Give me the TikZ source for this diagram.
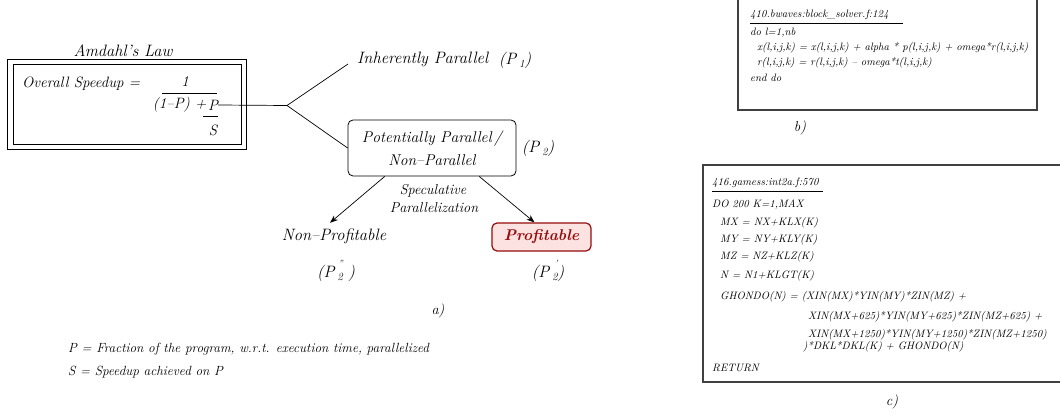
\documentclass[tikz,border=0pt]{standalone}
\usetikzlibrary{arrows.meta,calc}
\definecolor{profred}{RGB}{150,12,12}
\definecolor{proffill}{RGB}{253,226,226}
\newcommand{\subsz}{\fontsize{11}{12}\selectfont}
\newcommand{\primesz}{\fontsize{9}{10}\selectfont}
\begin{document}
\begin{tikzpicture}[x=1pt,y=-1pt,
  lbl/.style={inner sep=0pt, font=\fontsize{16.5}{19}\selectfont\itshape},
  form/.style={inner sep=0pt, font=\fontsize{15}{18}\selectfont\itshape},
  small/.style={inner sep=0pt, font=\fontsize{14.3}{16}\selectfont\itshape},
  legend/.style={inner sep=0pt, anchor=west, font=\fontsize{13.3}{15}\selectfont\itshape},
  codeb/.style={inner sep=0pt, anchor=west, font=\fontsize{10.7}{12}\selectfont\itshape},
  codec/.style={inner sep=0pt, anchor=west, font=\fontsize{10.75}{12}\selectfont\itshape},
  conn/.style={line width=0.7pt},
  arr/.style={line width=0.7pt, -{Stealth[length=8pt,width=6pt]}},
  codebox/.style={line width=1.2pt, black!75},
]
\useasboundingbox (0,0) rectangle (1060,414);

% ---------- a) Amdahl's law ----------
\node[lbl] (amdt) at (123,51) {Amdahl's Law};
\draw[line width=0.8pt] (7,59) rectangle (246,149);
\draw[line width=0.8pt] (13,64) rectangle (241,144);
\node[form, anchor=west] (ovs) at (22,84) {Overall Speedup =};
\node[form] (one) at (185,82) {1};
\draw[line width=0.7pt] (162,93) -- (217,93);
\node[form, anchor=east] (den) at (206.5,105) {(1--P) +};
\node[form] (pnum) at (213,105) {P};
\draw[line width=0.7pt] (203,116) -- (218,116);
\node[form] (sden) at (213,130) {S};

\coordinate (br) at (287,105.5);
\coordinate (upend) at (348,64);
\draw[conn] (pnum.east) -- (br);
\draw[conn] (br) -- (upend);

\node[lbl, anchor=west] (inh) at (357,59) {Inherently Parallel};
\node[lbl] (p1) at (515,60) {(P\,\raisebox{-0.45ex}{\subsz 1})};

\node[draw, line width=0.8pt, rounded corners=5pt, minimum width=168pt, minimum height=56pt,
      align=center, font=\fontsize{15.6}{23}\selectfont\itshape, inner sep=0pt] (pot) at (432,148)
      {Potentially Parallel\,/\\Non--Parallel};
\draw[conn] (br) -- (pot.west);
\node[lbl] (p2) at (538,148) {(P\,\raisebox{-0.45ex}{\subsz 2})};

\node[small] (spec) at (433,191) {Speculative};
\node[small] (para) at (434,208) {Parallelization};

\node[lbl, inner sep=0pt, minimum height=26pt] (nonprof) at (334,236) {Non--Profitable};
\node[draw=profred, fill=proffill, line width=1.2pt, rounded corners=5pt, minimum width=99pt,
      minimum height=28pt, inner sep=0pt, text=profred,
      font=\fontsize{15.6}{18}\selectfont\bfseries\itshape] (prof) at (541.5,237) {Profitable};

\draw[arr] ($(pot.south west)!0.22!(pot.south east)$) -- ($(nonprof.north)+(-4,0)$);
\draw[arr] ($(pot.south west)!0.78!(pot.south east)$) -- ($(prof.north west)!0.43!(prof.north east)$);

\node[lbl] (p2dd) at (336,271) {(P\,\raisebox{-0.45ex}{\subsz 2}\llap{\raisebox{1.6ex}{\primesz ''}}\,\,)};
\node[lbl] (p2d) at (548,271) {(P\,\raisebox{-0.45ex}{\subsz 2}\llap{\raisebox{1.6ex}{\primesz '}})};

\node[small] (alab) at (438,311) {a)};

\node[legend] (leg1) at (68,349) {P = Fraction of the program, w.r.t. execution time, parallelized};
\node[legend] (leg2) at (68,372) {S = Speedup achieved on P};

% ---------- b) ----------
\draw[codebox] (738,0) -- (738,110) -- (1037,110) -- (1037,0);
\node[codeb] (btitle) at (750,15) {410.bwaves:block\_solver.f:124};
\draw[line width=0.6pt] (750,23) -- (903,23);
\node[codeb] (b1) at (750,33) {do l=1,nb};
\node[codeb] (b2) at (757,48) {x(l,i,j,k) = x(l,i,j,k) + alpha * p(l,i,j,k) + omega*r(l,i,j,k)};
\node[codeb] (b3) at (757,63) {r(l,i,j,k) = r(l,i,j,k) -- omega*t(l,i,j,k)};
\node[codeb] (b4) at (750,78) {end do};
\node[small] (blab) at (800,128) {b)};

% ---------- c) ----------
\draw[codebox] (1062,165) -- (703,165) -- (703,382) -- (1062,382);
\node[codec] (ctitle) at (712,183) {416.gamess:int2a.f:570};
\draw[line width=0.6pt] (712,191) -- (823,191);
\node[codec] (c1) at (712,205) {DO 200 K=1,MAX};
\node[codec] (c2) at (720,223) {MX = NX+KLX(K)};
\node[codec] (c3) at (720,240) {MY = NY+KLY(K)};
\node[codec] (c4) at (720,257) {MZ = NZ+KLZ(K)};
\node[codec] (c5) at (720,276) {N = N1+KLGT(K)};
\node[codec] (c6) at (720,297) {GHONDO(N) = (XIN(MX)*YIN(MY)*ZIN(MZ) +};
\node[codec] (c7) at (808,317) {XIN(MX+625)*YIN(MY+625)*ZIN(MZ+625) +};
\node[codec] (c8) at (808,335) {XIN(MX+1250)*YIN(MY+1250)*ZIN(MZ+1250)};
\node[codec] (c9) at (803,347) {)*DKL*DKL(K) + GHONDO(N)};
\node[codec] (c10) at (712,368) {RETURN};
\node[small] (clab) at (892,402) {c)};
\end{tikzpicture}
\end{document}
